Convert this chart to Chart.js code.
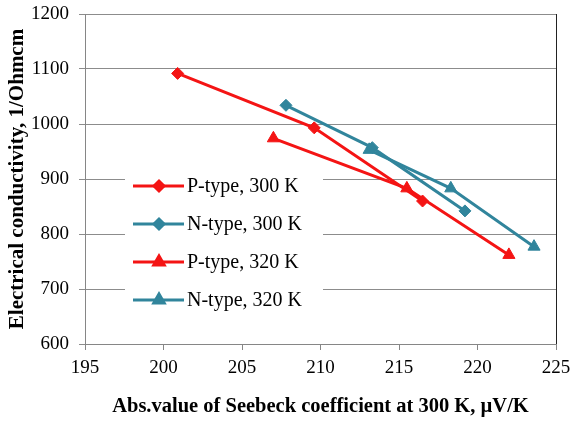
<!DOCTYPE html>
<html>
<head>
    <meta charset="UTF-8">
    <title>Electrical conductivity vs Seebeck coefficient</title>
    <script src="https://cdn.jsdelivr.net/npm/chart.js@4.4.0/dist/chart.umd.min.js"></script>
    <style>
        body { margin: 0; background: #fff; }
        #wrap { width: 572px; height: 422px; }
    </style>
</head>
<body>
<div id="wrap">
    <canvas id="seebeckChart" width="572" height="422"></canvas>
</div>

<script>
    // Values.
    var seriesNames = ['P-type, 300 K', 'N-type, 300 K', 'P-type, 320 K', 'N-type, 320 K'];
    var pType300X = [200.9, 209.6, 216.5];
    var pType300Y = [1092, 993, 860];
    var nType300X = [207.8, 213.3, 219.2];
    var nType300Y = [1034, 957, 842];
    var pType320X = [207.0, 215.5, 222.0];
    var pType320Y = [974, 883, 762];
    var nType320X = [213.1, 218.3, 223.6];
    var nType320Y = [953, 883, 777];

    var xMin = 195, xMax = 225, xStep = 5;
    var yMin = 600, yMax = 1200, yStep = 100;

    var RED = '#f41414';
    var TEAL = '#31859c';
    var FONT = '"Liberation Serif", "Times New Roman", serif';

    function toPoints(xs, ys) {
        return xs.map(function(x, i) { return { x: x, y: ys[i] }; });
    }

    function makeSet(label, xs, ys, color, style, radius) {
        return {
            label: label,
            data: toPoints(xs, ys),
            showLine: true,
            borderColor: color,
            backgroundColor: color,
            borderWidth: 3,
            pointStyle: style,
            pointRadius: radius,
            pointHoverRadius: radius,
            pointBorderWidth: 1,
            pointBorderColor: color,
            pointBackgroundColor: color
        };
    }

    var datasets = [
        makeSet(seriesNames[0], pType300X, pType300Y, RED, 'rectRot', 6),
        makeSet(seriesNames[1], nType300X, nType300Y, TEAL, 'rectRot', 6),
        makeSet(seriesNames[2], pType320X, pType320Y, RED, 'triangle', 7),
        makeSet(seriesNames[3], nType320X, nType320Y, TEAL, 'triangle', 7)
    ];

    // Right-hand frame line of the plot area.
    var frameLine = {
        id: 'frameLine',
        beforeDatasetsDraw: function(chart) {
            var a = chart.chartArea, ctx = chart.ctx;
            ctx.save();
            ctx.strokeStyle = '#222';
            ctx.lineWidth = 1;
            ctx.beginPath();
            ctx.moveTo(Math.round(a.right) + 0.5, a.top);
            ctx.lineTo(Math.round(a.right) + 0.5, a.bottom);
            ctx.stroke();
            ctx.restore();
        }
    };

    // Legend box sitting inside the plot area, like the original.
    var insideLegend = {
        id: 'insideLegend',
        afterDraw: function(chart) {
            var a = chart.chartArea, ctx = chart.ctx;
            var left = a.left + 40, top = a.top + 156;
            var rowH = 38;
            ctx.save();
            ctx.fillStyle = '#fff';
            ctx.fillRect(left, top, 198, 143);
            chart.data.datasets.forEach(function(ds, i) {
                var y = top + 16 + i * rowH;
                ctx.strokeStyle = ds.borderColor;
                ctx.lineWidth = 3;
                ctx.beginPath();
                ctx.moveTo(left + 8, y);
                ctx.lineTo(left + 59, y);
                ctx.stroke();
                Chart.helpers.drawPoint(ctx, {
                    pointStyle: ds.pointStyle,
                    radius: ds.pointStyle === 'triangle' ? 6 : 5,
                    rotation: 0,
                    borderWidth: 1
                }, left + 34, y);
                ctx.fillStyle = ds.borderColor;
                ctx.fill();
                ctx.fillStyle = '#000';
                ctx.font = '20px ' + FONT;
                ctx.textAlign = 'left';
                ctx.textBaseline = 'middle';
                ctx.fillText(ds.label, left + 62, y + 1);
            });
            ctx.restore();
        }
    };

    var ctx = document.getElementById('seebeckChart').getContext('2d');
    var chart = new Chart(ctx, {
        type: 'scatter',
        data: { datasets: datasets },
        options: {
            responsive: false,
            animation: false,
            layout: { padding: { top: 14, right: 16, left: 0, bottom: 0 } },
            plugins: {
                legend: { display: false },
                tooltip: { enabled: false }
            },
            scales: {
                x: {
                    type: 'linear',
                    min: xMin,
                    max: xMax,
                    ticks: {
                        stepSize: xStep,
                        color: '#000',
                        padding: 7,
                        font: { family: FONT, size: 19 },
                        callback: function(v) { return String(v); }
                    },
                    grid: {
                        drawOnChartArea: false,
                        drawTicks: true,
                        tickLength: 6,
                        color: '#868686'
                    },
                    border: { color: '#868686', width: 1 },
                    title: {
                        display: true,
                        text: 'Abs.value of Seebeck coefficient at 300 K, \u00b5V/K',
                        color: '#000',
                        font: { family: FONT, size: 20.5, weight: 'bold' },
                        padding: { top: 0, bottom: 3 }
                    },
                    afterFit: function(scale) {
                        scale.height = 78;
                        scale.paddingLeft = 0;
                        scale.paddingRight = 0;
                    }
                },
                y: {
                    min: yMin,
                    max: yMax,
                    ticks: {
                        stepSize: yStep,
                        color: '#000',
                        padding: 10,
                        font: { family: FONT, size: 19 },
                        callback: function(v) { return String(v); }
                    },
                    grid: {
                        color: '#8c8c8c',
                        tickLength: 6
                    },
                    border: { color: '#868686', width: 1 },
                    title: {
                        display: true,
                        text: 'Electrical conductivity, 1/Ohmcm',
                        color: '#000',
                        font: { family: FONT, size: 21, weight: 'bold' },
                        padding: { top: 5, bottom: 0 }
                    },
                    afterFit: function(scale) {
                        scale.width = 85;
                        scale.paddingTop = 0;
                        scale.paddingBottom = 0;
                    }
                }
            }
        },
        plugins: [frameLine, insideLegend]
    });
</script>
</body>
</html>
